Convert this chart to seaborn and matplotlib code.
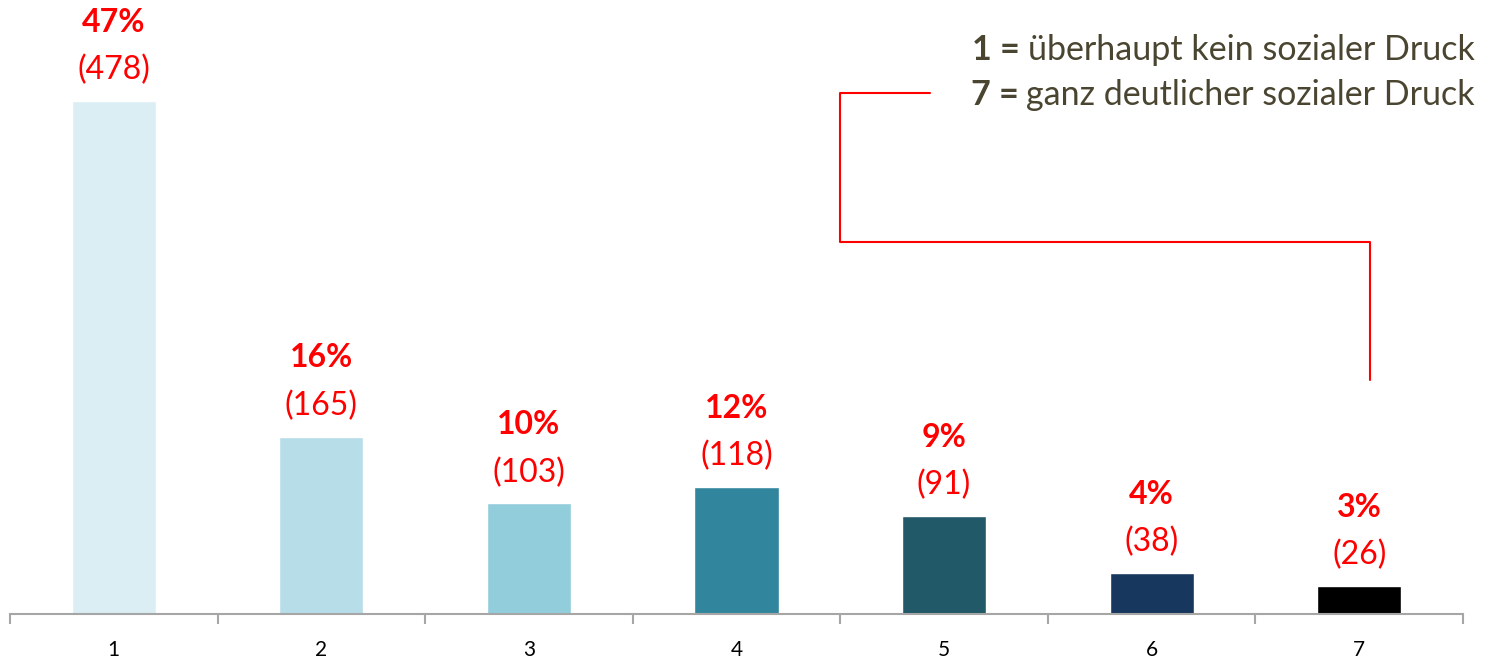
import matplotlib
matplotlib.use("Agg")
import matplotlib.pyplot as plt
import seaborn as sns
import pandas as pd
from matplotlib.lines import Line2D

categories = ["1", "2", "3", "4", "5", "6", "7"]
counts = [478, 165, 103, 118, 91, 38, 26]
percents = ["47%", "16%", "10%", "12%", "9%", "4%", "3%"]
colors = ["#DAEEF3", "#B7DDE8", "#92CDDC", "#31859C", "#215968", "#17375E", "#000000"]
legend_bold = ["1 =", "7 ="]
legend_text = ["überhaupt kein sozialer Druck", "ganz deutlicher sozialer Druck"]

sns.set_theme(style="white")
plt.rcParams["font.family"] = ["Lato", "DejaVu Sans"]

W, H = 1489, 660
fig = plt.figure(figsize=(W / 100, H / 100), dpi=100)
ax = fig.add_axes([10 / W, 1 - 614 / H, (1463 - 10) / W, 614 / H])

df = pd.DataFrame({"cat": categories, "n": counts})
sns.barplot(data=df, x="cat", y="n", hue="cat", palette=colors, legend=False,
            width=0.405, saturation=1, ax=ax)

ax.set_xlim(-0.5, 6.5)
ax.set_ylim(0, 614 / 1.073)
for s in ["top", "right", "left"]:
    ax.spines[s].set_visible(False)
ax.spines["bottom"].set_color("#A6A6A6")
ax.spines["bottom"].set_linewidth(1.5)
ax.set_yticks([])
ax.set_xlabel("")
ax.set_ylabel("")
ax.set_xticks(range(7))
ax.set_xticklabels(categories, fontsize=15, color="#000000")
ax.tick_params(axis="x", which="major", length=0, pad=19)
ax.set_xticks([i - 0.5 for i in range(8)], minor=True)
ax.tick_params(axis="x", which="minor", bottom=True, length=7, width=1.5,
               color="#A6A6A6", direction="out")

for i, (n, p) in enumerate(zip(counts, percents)):
    ax.annotate(f"({n})", xy=(i, n), xytext=(0, 31), textcoords="offset pixels",
                ha="center", va="center", color="#FF0000", fontsize=23, annotation_clip=False)
    ax.annotate(p, xy=(i, n), xytext=(0, 79), textcoords="offset pixels",
                ha="center", va="center", color="#FF0000", fontsize=23,
                fontweight="bold", annotation_clip=False)

# bracket line in figure pixel coords
xs = [930, 840, 840, 1370, 1370]
ys = [93, 93, 242, 242, 380]
fig.add_artist(Line2D([x / W for x in xs], [1 - y / H for y in ys],
                      color="#FF0000", linewidth=1.5, transform=fig.transFigure))

renderer = fig.canvas.get_renderer()
txtcol = "#4A4530"
for yc, b, t in zip([50, 95], legend_bold, legend_text):
    tt = fig.text(1475 / W, 1 - yc / H, t, ha="right", va="center", fontsize=24.5, color=txtcol)
    bb = tt.get_window_extent(renderer)
    fig.text((bb.x0 - 8) / W, 1 - yc / H, b, ha="right", va="center", fontsize=24.5,
             fontweight="bold", color=txtcol)

fig.savefig("out.png", dpi=100)
